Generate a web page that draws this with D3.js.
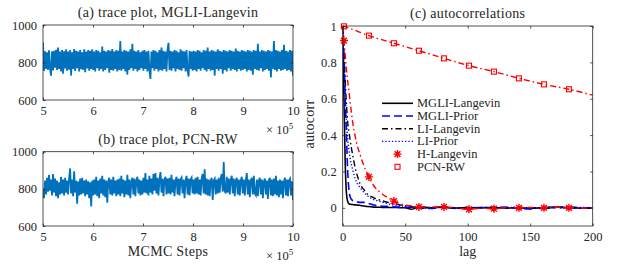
<!DOCTYPE html>
<html>
<head>
<meta charset="utf-8">
<script src="https://cdn.jsdelivr.net/npm/d3@7"></script>
<style>
  body { margin: 0; background: #fff; }
  svg text { font-family: "Liberation Serif", "Times New Roman", serif; fill: #262626; }
</style>
</head>
<body>
<div id="chart"></div>
<script>
// trace values, steps run evenly from 5e5 to 10e5
const traceStart = 5, traceEnd = 10;
const traceMGLI = [
  905, 755, 860, 765, 855, 760, 865, 770, 730, 860, 758, 862, 772, 868, 760, 880, 765, 858, 752, 866, 740, 860, 768, 870, 756,
  858, 762, 866, 730, 855, 765, 872, 755, 862, 770, 858, 752, 866, 764, 855, 760, 870, 748, 858, 768, 866, 756, 862, 765, 870,
  760, 858, 752, 866, 770, 862, 756, 855, 765, 885, 752, 862, 760, 858, 770, 866, 745, 862, 760, 872, 756, 858, 765, 866, 752,
  862, 760, 915, 756, 858, 765, 866, 752, 862, 735, 858, 760, 870, 770, 900, 756, 862, 765, 858, 752, 866, 760, 855, 770, 862,
  756, 866, 765, 858, 752, 862, 760, 712, 858, 770, 866, 756, 862, 765, 855, 752, 866, 760, 880, 756, 862, 765, 858, 752, 866,
  905, 760, 862, 756, 858, 770, 866, 752, 862, 765, 855, 760, 870, 756, 862, 770, 858, 752, 866, 760, 725, 862, 765, 858, 756,
  862, 760, 858, 752, 866, 765, 862, 756, 855, 770, 866, 760, 862, 752, 880, 765, 858, 756, 866, 760, 862, 730, 858, 765, 870,
  756, 862, 765, 858, 740, 866, 760, 862, 752, 858, 770, 866, 756, 862, 765, 858, 760, 875, 752, 862, 765, 858, 756, 866, 760,
  862, 765, 858, 752, 866, 760, 862, 756, 858, 735, 866, 765, 862, 760, 900, 756, 858, 770, 866, 752, 862, 760, 858, 765, 866,
  756, 862, 720, 858, 765, 915, 760, 866, 752, 862, 765, 858, 756, 866, 760, 895, 765, 862, 756, 858, 760, 866, 752, 862, 730
];
const tracePCN = [
  800, 750, 845, 770, 860, 785, 875, 790, 850, 765, 880, 780, 855, 760, 845, 750, 835, 770, 865, 775, 850, 765, 860, 780, 845,
  770, 855, 910, 775, 850, 760, 895, 780, 845, 720, 840, 765, 855, 770, 860, 775, 845, 760, 850, 770, 840, 750, 835, 705, 845,
  765, 850, 770, 865, 760, 845, 750, 855, 775, 870, 765, 850, 755, 845, 725, 840, 860, 770, 850, 765, 865, 775, 845, 760, 850,
  770, 855, 760, 870, 775, 850, 755, 845, 770, 875, 765, 850, 750, 840, 860, 770, 855, 760, 845, 865, 775, 850, 765, 845, 770,
  860, 780, 885, 775, 850, 765, 870, 780, 855, 770, 880, 790, 885, 775, 860, 765, 850, 890, 780, 855, 760, 850, 865, 770, 855,
  775, 860, 770, 875, 780, 850, 760, 845, 865, 770, 855, 765, 850, 860, 775, 850, 750, 845, 870, 770, 855, 765, 850, 860, 775,
  850, 770, 860, 775, 865, 770, 850, 765, 855, 880, 775, 905, 770, 855, 765, 850, 760, 845, 860, 740, 845, 855, 770, 850, 775,
  860, 780, 855, 880, 785, 945, 790, 775, 865, 780, 855, 770, 850, 870, 775, 855, 760, 845, 860, 770, 850, 765, 845, 865, 775,
  850, 765, 845, 885, 770, 850, 755, 845, 860, 770, 870, 775, 765, 850, 760, 845, 860, 770, 850, 750, 840, 855, 770, 845, 745,
  845, 860, 765, 850, 760, 855, 770, 870, 765, 845, 755, 850, 770, 845, 750, 840, 860, 765, 850, 760, 845, 855, 765, 840, 740
];

// autocorrelations
const lags = [0, 1, 2, 3, 4, 5, 6, 8, 10, 12, 14, 17, 20, 25, 30, 35, 40, 45, 50, 55, 60, 70, 80, 90, 100, 110, 120, 130, 140, 150, 160, 170, 180, 190, 200];
const acMGLILangevin = [1, 0.6, 0.25, 0.08, 0.035, 0.022, 0.02, 0.018, 0.016, 0.015, 0.013, 0.01, 0.007, 0.004, 0.003, 0.002, 0.002, 0.001, 0.0, -0.008, 0.002, 0.0, 0.003, -0.002, 0.001, 0.0, 0.002, -0.001, 0.0, -0.003, 0.002, 0.004, 0.0, -0.002, 0.0];
const acMGLIPrior = [1, 0.85, 0.6, 0.4, 0.2, 0.1, 0.06, 0.04, 0.035, 0.032, 0.03, 0.03, 0.025, 0.015, 0.01, 0.008, 0.005, 0.004, 0.002, 0.003, 0.0, -0.004, 0.003, 0.0, -0.005, 0.002, 0.0, 0.004, -0.003, -0.006, 0.002, 0.0, 0.003, -0.002, 0.0];
const acLILangevin = [1, 0.85, 0.7, 0.57, 0.47, 0.42, 0.37, 0.29, 0.22, 0.17, 0.13, 0.1, 0.075, 0.055, 0.042, 0.032, 0.024, 0.017, 0.01, 0.006, 0.004, 0.002, 0.005, -0.003, 0.002, 0.0, 0.004, -0.002, 0.003, 0.0, -0.004, 0.002, 0.006, 0.0, -0.003];
const acLIPrior = [1, 0.8, 0.62, 0.48, 0.38, 0.32, 0.27, 0.21, 0.16, 0.13, 0.11, 0.085, 0.065, 0.045, 0.035, 0.025, 0.016, 0.012, 0.008, 0.004, 0.002, 0.0, 0.003, -0.004, 0.0, 0.002, -0.003, 0.0, 0.004, -0.002, 0.0, 0.003, -0.001, 0.002, 0.0];
const lagsH = [0, 1, 2, 3, 5, 8, 11, 14, 17, 21, 25, 30, 35, 41, 45, 50, 55, 61, 70, 81, 90, 101, 110, 121, 130, 141, 150, 161, 170, 181, 190, 200];
const acHLangevin = [1, 0.92, 0.84, 0.76, 0.64, 0.47, 0.36, 0.29, 0.23, 0.17, 0.12, 0.085, 0.06, 0.037, 0.025, 0.015, 0.01, 0.005, 0.004, 0.005, 0.0, -0.008, -0.003, -0.005, 0.0, 0.0, 0.002, 0.0, 0.003, 0.0, -0.002, 0.0];
const lagsPCN = [0, 1, 21, 41, 61, 81, 101, 121, 141, 161, 181, 200];
const acPCN = [1, 0.998, 0.947, 0.905, 0.864, 0.822, 0.782, 0.749, 0.712, 0.679, 0.652, 0.62];
const markerLags = [1, 21, 41, 61, 81, 101, 121, 141, 161, 181];

const legendNames = ["MGLI-Langevin", "MGLI-Prior", "LI-Langevin", "LI-Prior", "H-Langevin", "PCN-RW"];

const w = 623, h = 265;
const axisColor = "#262626";
const tick = 2.5;
const labelSize = "14px";

const svg = d3.select("#chart").append("svg")
    .attr("width", w).attr("height", h);

function frame(g, x0, x1, y0, y1) {
    g.append("rect")
        .attr("x", x0).attr("y", y0)
        .attr("width", x1 - x0).attr("height", y1 - y0)
        .attr("fill", "none").attr("stroke", axisColor).attr("stroke-width", 0.8);
}

function styleAxis(sel) {
    sel.select(".domain").remove();
    sel.selectAll("line").attr("stroke", axisColor).attr("stroke-width", 0.8);
    sel.selectAll("text").style("font-size", "12.5px").attr("fill", axisColor);
}

function tracePanel(values, id, top, bottom, title) {
    const left = 43, right = 293;
    const x = d3.scaleLinear().domain([traceStart, traceEnd]).range([left, right]);
    const y = d3.scaleLinear().domain([600, 1000]).range([bottom, top]);
    const g = svg.append("g");

    g.append("clipPath").attr("id", id)
        .append("rect").attr("x", left).attr("y", top).attr("width", right - left).attr("height", bottom - top);

    const line = d3.line()
        .x((d, i) => x(traceStart + i * (traceEnd - traceStart) / (values.length - 1)))
        .y(d => y(d));
    g.append("path")
        .datum(values)
        .attr("clip-path", "url(#" + id + ")")
        .attr("d", line)
        .attr("fill", "none")
        .attr("stroke", "#0072BD")
        .attr("stroke-width", 1.8);

    g.append("g").attr("transform", "translate(0," + bottom + ")")
        .call(d3.axisBottom(x).ticks(6).tickSizeInner(-tick).tickSizeOuter(0).tickPadding(6))
        .call(styleAxis);
    g.append("g").attr("transform", "translate(0," + top + ")")
        .call(d3.axisTop(x).ticks(6).tickSizeInner(-tick).tickSizeOuter(0).tickFormat(""))
        .call(styleAxis);
    g.append("g").attr("transform", "translate(" + left + ",0)")
        .call(d3.axisLeft(y).tickValues([600, 800, 1000]).tickSizeInner(-tick).tickSizeOuter(0).tickPadding(6).tickFormat(d3.format("d")))
        .call(styleAxis);
    g.append("g").attr("transform", "translate(" + right + ",0)")
        .call(d3.axisRight(y).tickValues([600, 800, 1000]).tickSizeInner(-tick).tickSizeOuter(0).tickFormat(""))
        .call(styleAxis);
    frame(g, left, right, top, bottom);

    g.append("text")
        .attr("x", (left + right) / 2).attr("y", top - 8)
        .attr("text-anchor", "middle")
        .style("font-size", labelSize)
        .style("letter-spacing", "0.3px")
        .text(title);

    const ex = g.append("text")
        .attr("x", 266).attr("y", bottom + 34)
        .style("font-size", "12.5px");
    ex.append("tspan").text("\u00d7 10");
    ex.append("tspan").attr("dy", -5).style("font-size", "9px").text("5");
}

tracePanel(traceMGLI, "clipA", 25, 100, "(a) trace plot, MGLI-Langevin");
tracePanel(tracePCN, "clipB", 151.7, 226, "(b) trace plot, PCN-RW");

svg.append("text")
    .attr("x", 168).attr("y", 256)
    .attr("text-anchor", "middle")
    .style("font-size", labelSize)
    .style("letter-spacing", "0.3px")
    .text("MCMC Steps");

// autocorrelation panel
const aLeft = 342.7, aRight = 592.7, aTop = 26, aBottom = 226;
const xA = d3.scaleLinear().domain([0, 200]).range([aLeft, aRight]);
const yA = d3.scaleLinear().domain([-0.1, 1]).range([aBottom, aTop]);
const gA = svg.append("g");

gA.append("clipPath").attr("id", "clipC")
    .append("rect").attr("x", aLeft).attr("y", aTop - 1).attr("width", aRight - aLeft).attr("height", aBottom - aTop + 1);

const series = [
    { lag: lags, v: acMGLILangevin, color: "#000000", dash: null, width: 1.6 },
    { lag: lags, v: acMGLIPrior, color: "#0000ff", dash: "8,4", width: 1.6 },
    { lag: lags, v: acLILangevin, color: "#000000", dash: "6,3,1.5,3", width: 1.4 },
    { lag: lags, v: acLIPrior, color: "#0000ff", dash: "1.3,2", width: 1.4 },
    { lag: lagsH, v: acHLangevin, color: "#ff0000", dash: "6,3,1.5,3", width: 1.4 },
    { lag: lagsPCN, v: acPCN, color: "#ff0000", dash: "6,3,1.5,3", width: 1.4 }
];

const acLine = d3.line()
    .x(d => xA(d[0]))
    .y(d => yA(d[1]))
    .curve(d3.curveMonotoneX);

series.forEach(s => {
    gA.append("path")
        .datum(d3.zip(s.lag, s.v))
        .attr("clip-path", "url(#clipC)")
        .attr("d", acLine)
        .attr("fill", "none")
        .attr("stroke", s.color)
        .attr("stroke-width", s.width)
        .attr("stroke-dasharray", s.dash);
});

const starPath = "M-4,0H4M0,-4V4M-2.9,-2.9L2.9,2.9M-2.9,2.9L2.9,-2.9";
const hMarks = markerLags.map(l => [l, acHLangevin[lagsH.indexOf(l)]]);
gA.selectAll(".star")
    .data(hMarks)
    .enter()
    .append("path")
    .attr("class", "star")
    .attr("transform", d => "translate(" + xA(d[0]) + "," + yA(d[1]) + ")")
    .attr("d", starPath)
    .attr("stroke", "#ff0000")
    .attr("stroke-width", 1.4)
    .attr("fill", "none");

const pMarks = markerLags.map(l => [l, acPCN[lagsPCN.indexOf(l)]]);
gA.selectAll(".sq")
    .data(pMarks)
    .enter()
    .append("rect")
    .attr("class", "sq")
    .attr("x", d => xA(d[0]) - 2.5)
    .attr("y", d => yA(d[1]) - 2.5)
    .attr("width", 5).attr("height", 5)
    .attr("fill", "none")
    .attr("stroke", "#ff0000")
    .attr("stroke-width", 1.1);

const yTicks = [0, 0.2, 0.4, 0.6, 0.8, 1];
gA.append("g").attr("transform", "translate(0," + aBottom + ")")
    .call(d3.axisBottom(xA).tickValues([0, 50, 100, 150, 200]).tickSizeInner(-tick).tickSizeOuter(0).tickPadding(6))
    .call(styleAxis);
gA.append("g").attr("transform", "translate(0," + aTop + ")")
    .call(d3.axisTop(xA).tickValues([0, 50, 100, 150, 200]).tickSizeInner(-tick).tickSizeOuter(0).tickFormat(""))
    .call(styleAxis);
gA.append("g").attr("transform", "translate(" + aLeft + ",0)")
    .call(d3.axisLeft(yA).tickValues(yTicks).tickSizeInner(-tick).tickSizeOuter(0).tickPadding(6).tickFormat(d3.format("~g")))
    .call(styleAxis);
gA.append("g").attr("transform", "translate(" + aRight + ",0)")
    .call(d3.axisRight(yA).tickValues(yTicks).tickSizeInner(-tick).tickSizeOuter(0).tickFormat(""))
    .call(styleAxis);
frame(gA, aLeft, aRight, aTop, aBottom);

gA.append("text")
    .attr("x", (aLeft + aRight) / 2).attr("y", aTop - 8)
    .attr("text-anchor", "middle")
    .style("font-size", labelSize)
    .style("letter-spacing", "0.3px")
    .text("(c) autocorrelations");
gA.append("text")
    .attr("x", (aLeft + aRight) / 2).attr("y", 256)
    .attr("text-anchor", "middle")
    .style("font-size", labelSize)
    .text("lag");
gA.append("text")
    .attr("transform", "translate(314,124) rotate(-90)")
    .attr("text-anchor", "middle")
    .style("font-size", labelSize)
    .style("letter-spacing", "0.3px")
    .text("autocorr");

// legend
const legend = gA.append("g").attr("transform", "translate(382,103.3)");
legendNames.forEach((name, i) => {
    const s = series[i];
    const row = legend.append("g").attr("transform", "translate(0," + (i * 12.7) + ")");
    if (i < 4) {
        row.append("line")
            .attr("x1", 0).attr("x2", 31).attr("y1", 0).attr("y2", 0)
            .attr("stroke", s.color)
            .attr("stroke-width", s.width)
            .attr("stroke-dasharray", s.dash);
    } else if (i === 4) {
        row.append("path").attr("d", starPath)
            .attr("transform", "translate(15.5,0)")
            .attr("stroke", "#ff0000").attr("stroke-width", 1.4).attr("fill", "none");
    } else {
        row.append("rect").attr("x", 13).attr("y", -2.5).attr("width", 5).attr("height", 5)
            .attr("fill", "none").attr("stroke", "#ff0000").attr("stroke-width", 1.1);
    }
    row.append("text")
        .attr("x", 35).attr("y", 4)
        .style("font-size", "12.5px")
        .text(name);
});
</script>
</body>
</html>
